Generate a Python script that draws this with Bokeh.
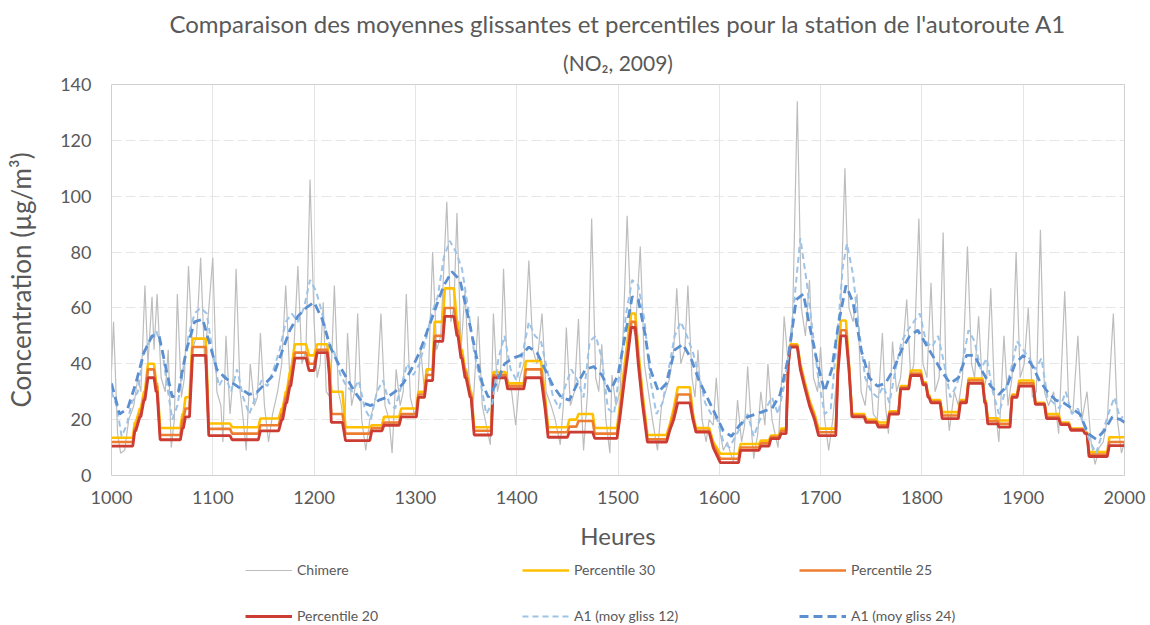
from bokeh.plotting import figure
from bokeh.models import Legend, LegendItem, FixedTicker, Range1d, Title
from bokeh.layouts import column
from bokeh.embed import file_html
from bokeh.resources import INLINE

# ---------------- data ----------------
chimere_h = [1000,1002,1006,1009,1013,1017,1022,1026,1029,1033,1036,1040,1042,1045,1049,1053,1056,1059,1062,1065,
             1069,1072,1076,1080,1084,1088,1092,1095,1100,1104,1108,1110,1113,1117,1120,1123,1127,1130,1133,1137,
             1141,1144,1147,1151,1155,1159,1164,1168,1172,1176,1180,1184,1188,1192,1196,1200,1203,1206,1209,1212,
             1216,1220,1224,1227,1230,1233,1237,1240,1243,1247,1251,1255,1259,1262,1266,1270,1274,1277,1281,1285,
             1288,1291,1295,1299,1302,1305,1309,1313,1317,1321,1325,1331,1335,1338,1341,1345,1349,1353,1357,1362,
             1366,1370,1374,1377,1381,1384,1387,1391,1395,1399,1403,1407,1412,1416,1420,1425,1429,1434,1438,1443,
             1446,1449,1453,1457,1461,1464,1466,1470,1474,1478,1481,1484,1488,1492,1494,1498,1502,1505,1509,1513,
             1517,1522,1526,1530,1534,1539,1543,1547,1551,1555,1558,1562,1566,1569,1573,1576,1579,1583,1587,1590,
             1594,1597,1601,1604,1608,1611,1614,1618,1622,1625,1628,1632,1634,1638,1641,1645,1648,1652,1655,1658,
             1661,1664,1668,1672,1677,1681,1685,1689,1693,1697,1700,1704,1708,1712,1716,1719,1724,1728,1732,1736,
             1740,1744,1748,1752,1756,1761,1764,1767,1771,1775,1779,1785,1789,1792,1797,1801,1805,1809,1813,1817,
             1821,1824,1827,1832,1836,1840,1845,1849,1852,1856,1860,1864,1868,1872,1876,1881,1885,1889,1893,1897,
             1901,1905,1909,1913,1917,1921,1925,1930,1935,1941,1945,1949,1954,1958,1963,1967,1971,1975,1979,1983,
             1989,1993,1997,2000]
chimere_v = [38,55,15,8,9,20,25,35,30,68,40,64,45,65,35,30,45,10,20,65,
             28,35,75,45,50,78,40,55,78,30,25,12,50,22,35,74,30,20,9,40,
             25,28,51,25,12,22,30,40,68,35,45,75,40,45,106,55,35,40,62,30,
             28,68,30,25,14,51,25,30,58,20,9,20,25,30,58,25,20,8,38,25,
             30,65,28,22,25,46,30,38,80,45,50,98,55,60,94,45,66,35,25,57,
             25,18,11,58,30,35,74,35,30,18,35,40,77,45,40,58,30,25,20,11,
             25,53,25,30,56,25,9,30,92,35,30,47,20,8,36,25,30,50,93,55,
             50,82,40,30,20,9,25,30,35,45,67,40,45,68,35,28,45,20,12,20,
             18,35,15,9,12,8,5,27,12,18,39,15,6,15,30,18,40,20,15,10,
             30,57,40,50,134,60,50,70,35,30,46,20,9,20,35,50,110,60,55,65,
             30,25,41,22,20,51,25,15,48,30,35,63,35,40,92,40,35,69,30,35,
             87,30,16,30,25,35,82,40,35,57,30,35,67,25,12,50,25,35,80,35,
             40,60,28,30,88,30,25,30,15,66,25,22,50,20,30,12,4,10,12,20,
             58,20,8,12]

ma12_h = [1000,1005,1010,1015,1020,1026,1032,1038,1044,1050,1055,1060,1065,1070,1076,1082,1088,1094,1100,1106,
          1112,1118,1124,1130,1136,1142,1148,1154,1160,1166,1172,1178,1184,1190,1196,1202,1208,1214,1220,1226,
          1232,1238,1244,1250,1256,1262,1268,1274,1280,1286,1292,1298,1304,1310,1316,1322,1328,1334,1340,1346,
          1352,1358,1364,1370,1376,1382,1388,1394,1400,1406,1412,1418,1424,1430,1436,1442,1448,1454,1460,1466,
          1472,1478,1484,1490,1496,1502,1508,1514,1520,1526,1532,1538,1544,1550,1556,1562,1568,1574,1580,1586,
          1592,1598,1604,1610,1616,1622,1628,1634,1640,1646,1652,1658,1664,1670,1676,1680,1686,1692,1698,1704,
          1710,1716,1722,1726,1732,1738,1744,1750,1756,1762,1768,1774,1780,1786,1792,1798,1804,1810,1816,1822,
          1828,1834,1840,1846,1852,1858,1864,1870,1876,1882,1888,1894,1900,1906,1912,1918,1924,1930,1936,1942,
          1948,1954,1960,1966,1972,1978,1984,1990,1996,2000]
ma12_v = [30,25,14,18,26,30,45,48,52,45,32,20,25,36,50,58,60,58,44,32,
          36,30,38,28,22,28,34,32,38,45,55,58,55,60,70,66,58,48,44,36,
          32,30,34,24,20,30,34,26,24,32,40,36,40,48,58,64,78,84,80,74,
          60,44,34,22,26,42,50,38,34,44,55,50,48,38,28,24,32,38,34,28,
          48,50,42,24,22,38,58,70,68,56,34,22,26,38,50,55,50,44,36,26,
          22,20,12,10,14,18,22,14,20,24,28,22,32,48,70,85,70,52,34,22,
          24,48,75,83,72,52,35,30,28,32,26,38,48,52,55,58,48,46,50,40,
          28,32,40,52,48,38,42,30,22,30,38,48,45,42,38,42,28,26,24,30,
          22,24,18,12,8,15,22,28,20,22]

ma24_h = [1000,1008,1016,1024,1032,1040,1047,1054,1060,1066,1074,1082,1090,1097,1104,1112,1120,1128,1136,1144,
          1152,1160,1168,1176,1184,1192,1200,1208,1216,1224,1232,1240,1248,1256,1264,1272,1280,1288,1296,1304,
          1312,1320,1328,1336,1344,1352,1360,1366,1372,1380,1388,1396,1404,1412,1420,1428,1436,1444,1452,1460,
          1468,1476,1484,1492,1500,1507,1514,1520,1526,1532,1540,1548,1556,1564,1572,1580,1588,1596,1604,1612,
          1620,1628,1636,1644,1652,1660,1668,1676,1683,1690,1697,1704,1711,1718,1725,1732,1740,1748,1756,1764,
          1772,1780,1788,1796,1804,1812,1820,1828,1836,1844,1852,1860,1868,1876,1884,1892,1900,1908,1916,1924,
          1932,1940,1948,1956,1964,1972,1980,1988,1996,2000]
ma24_v = [33,22,24,33,44,50,50,38,28,30,45,55,56,47,38,35,33,31,29,30,
          33,36,44,52,57,60,62,56,46,40,35,30,26,25,27,28,30,33,38,44,
          52,60,68,73,70,57,43,33,28,33,40,42,43,46,44,38,32,28,27,33,
          38,39,36,30,36,50,64,63,52,38,30,33,45,47,42,34,28,22,16,14,
          18,21,22,23,24,29,42,63,65,52,40,30,38,55,68,62,45,35,32,33,
          38,45,50,52,47,42,37,33,35,43,43,37,32,29,32,40,43,40,34,30,
          27,26,24,22,15,13,16,21,20,19]

# percentile levels: each level holds from pct_start to pct_end
pct_start = [1000,1023,1028,1032,1036,1044,1048,1070,1073,1080,1096,1119,1147,1168,1172,1176,1181,1195,1203,1215,
             1217,1231,1257,1269,1286,1303,1311,1319,1329,1341,1345,1349,1354,1358,1377,1391,1409,1428,1431,1452,
             1461,1477,1502,1506,1510,1513,1520,1524,1529,1551,1555,1559,1574,1577,1594,1601,1621,1641,1651,1661,
             1668,1670,1680,1684,1689,1694,1698,1717,1720,1728,1731,1745,1757,1768,1779,1789,1801,1806,1809,1820,
             1838,1846,1862,1865,1876,1889,1896,1912,1923,1937,1947,1961,1965,1985]
pct_end = [1021,1024,1029,1033,1042,1045,1068,1071,1077,1093,1117,1145,1165,1169,1173,1177,1192,1200,1213,1215,
           1228,1255,1267,1284,1301,1309,1317,1327,1338,1342,1346,1350,1355,1375,1389,1407,1424,1428,1450,1459,
           1475,1499,1502,1506,1510,1517,1520,1524,1548,1551,1555,1571,1574,1590,1594,1619,1639,1649,1659,1666,
           1668,1677,1680,1684,1689,1694,1715,1717,1725,1728,1743,1755,1766,1777,1787,1799,1804,1807,1818,1836,
           1844,1860,1863,1875,1887,1894,1910,1921,1935,1945,1959,1963,1983,2000]
p30 = [13.5,19,24,30,40,33,17,22,28,49,18.6,17.3,20.4,24,30,37,47,43,47,40,
       30,17.3,18,21,24,30,38,55,67,55,45,38,30,17.3,37,33,41,28,17.3,20,
       22,17,25,38,50,58,45,30,14.5,18,24,31.6,22,17,12,7.8,11.3,12.5,14.3,16.8,
       40,47,40,34,27,22,16.8,40,55.5,40,22,20,19,23,32,37.6,33.4,29,27,22.7,
       27,34.7,27,20.5,19.7,29,34,26,22,19,16.8,15.5,8.4,13.7]
p25 = [12,17,22,28,38,32,14.5,20,24,46,16.7,15,18,22,28,34,44,40,45,38,
       22,15,17,19,22,29,36,50,60,52,43,37,29,16,36,32,38,26,15.5,17.5,
       19.5,15,23,35,46,55,42,28,13,17,22,29,21,16,11,6,10,11.5,13.8,16,
       40,46.5,39,33,26,21,15.5,38,52,39,21.5,19.5,18,22.5,31.5,36.5,33,28.5,26.5,21.5,
       26.5,34,26.5,19.5,18.5,28.5,33,25.8,21,18.6,16.5,15.2,7.5,12]
p20 = [10.5,16,21,27,35,30,12.8,17,21,43,14.3,12.8,16,20,26,32,42,37.6,44,36,
       19,12.5,16,18,21,28,34,48,57,50,42,35,28,14.5,35,31,35,24,13.7,15.5,
       15.5,13.3,21,33,44,53,40,26,12,16,20,26,20,15.5,10,4.6,9,10.5,13.2,15,
       39,46,38,32,25,20,14.3,36,50,38,21,19,17.3,22,31,35.8,32.5,28,26,20.4,
       26,33,26,18.5,17.3,28,32,25.5,20.4,18.2,16.2,15,6.8,10.7]

x_ticks = [1000,1100,1200,1300,1400,1500,1600,1700,1800,1900,2000]
y_ticks = [0,20,40,60,80,100,120,140]

title_line1 = "Comparaison des moyennes glissantes et percentiles pour la station de l'autoroute A1"
title_line2 = "(NO\u2082, 2009)"
x_label = "Heures"
y_label = "Concentration (\u00b5g/m\u00b3)"
names = ["Chimere", "Percentile 30", "Percentile 25", "Percentile 20", "A1 (moy gliss 12)", "A1 (moy gliss 24)"]

def step_line(values):
    xs, ys = [], []
    for a, b, v in zip(pct_start, pct_end, values):
        xs += [a, b]
        ys += [v, v]
    return xs, ys

# ---------------- styles ----------------
FONT = "Lato"
TXT = "#595959"
styles = [
    dict(line_color="#bdbdbd", line_width=1.2),
    dict(line_color="#ffc000", line_width=2.6),
    dict(line_color="#ed7d31", line_width=2.6),
    dict(line_color="#cc3c33", line_width=2.8),
    dict(line_color="#9dc3e6", line_width=2, line_dash="6 4"),
    dict(line_color="#5b8fd0", line_width=2.8, line_dash="9 5"),
]
W = 1150

# ---------------- main figure ----------------
p = figure(width=W, height=555, output_backend="svg", toolbar_location=None,
           x_range=Range1d(1000, 2000), y_range=Range1d(0, 140),
           min_border_left=111, min_border_right=26, min_border_top=84, min_border_bottom=80,
           title=title_line1)
p.title.align = "center"
p.title.text_font = FONT
p.title.text_font_size = "24px"
p.title.text_font_style = "normal"
p.title.text_color = TXT
p.title.text_line_height = 1.1
p.title.standoff = 0
p.add_layout(Title(text=title_line2, align="center", text_font=FONT, text_font_size="21px",
                   text_font_style="normal", text_color=TXT, standoff=20), "above")

p.outline_line_color = "#d0d0d0"
p.background_fill_color = "white"
p.border_fill_color = "white"

for ax in (p.xaxis[0], p.yaxis[0]):
    ax.axis_line_color = None
    ax.major_tick_line_color = None
    ax.minor_tick_line_color = None
    ax.major_label_text_font = FONT
    ax.major_label_text_font_size = "18px"
    ax.major_label_text_color = TXT
    ax.axis_label_text_font = FONT
    ax.axis_label_text_font_style = "normal"
    ax.axis_label_text_color = TXT

p.xaxis.axis_label_text_font_size = "24px"
p.yaxis.axis_label_text_font_size = "26px"
p.xaxis.ticker = FixedTicker(ticks=x_ticks)
p.yaxis.ticker = FixedTicker(ticks=y_ticks)
p.xaxis.axis_label = x_label
p.yaxis.axis_label = y_label
p.xaxis.major_label_standoff = 9
p.xaxis.axis_label_standoff = 14
p.yaxis.major_label_standoff = 14
p.yaxis.axis_label_standoff = 20

p.xgrid.grid_line_color = "#e4e4e4"
p.ygrid.grid_line_color = "#e6e6e6"
p.ygrid.grid_line_dash = "10 4"

x30, y30 = step_line(p30)
x25, y25 = step_line(p25)
x20, y20 = step_line(p20)
series = [(chimere_h, chimere_v), (x30, y30), (x25, y25), (x20, y20), (ma12_h, ma12_v), (ma24_h, ma24_v)]
for (xs, ys), st in zip(series, styles):
    p.line(xs, ys, **st)

# ---------------- legend strip ----------------
pl = figure(width=W, height=69, output_backend="svg", toolbar_location=None,
            x_range=Range1d(0, 1), y_range=Range1d(0, 1), x_axis_type=None, y_axis_type=None,
            min_border_left=0, min_border_right=0, min_border_top=0, min_border_bottom=0)
pl.outline_line_color = None
pl.border_fill_color = "white"
proxies = [pl.line([-5, -4], [-5, -4], **st) for st in styles]
legend = Legend(items=[LegendItem(label=n, renderers=[r]) for n, r in zip(names, proxies)],
                orientation="horizontal", ncols=3, location=(134, 0),
                glyph_width=47, glyph_height=16, label_height=16, label_width=196,
                label_standoff=5, spacing=29, padding=0, margin=0,
                label_text_font=FONT, label_text_font_size="14px", label_text_color=TXT,
                border_line_color=None, background_fill_alpha=0)
pl.add_layout(legend, "center")

open("out.html", "w").write(file_html(column(p, pl, spacing=0), INLINE))
